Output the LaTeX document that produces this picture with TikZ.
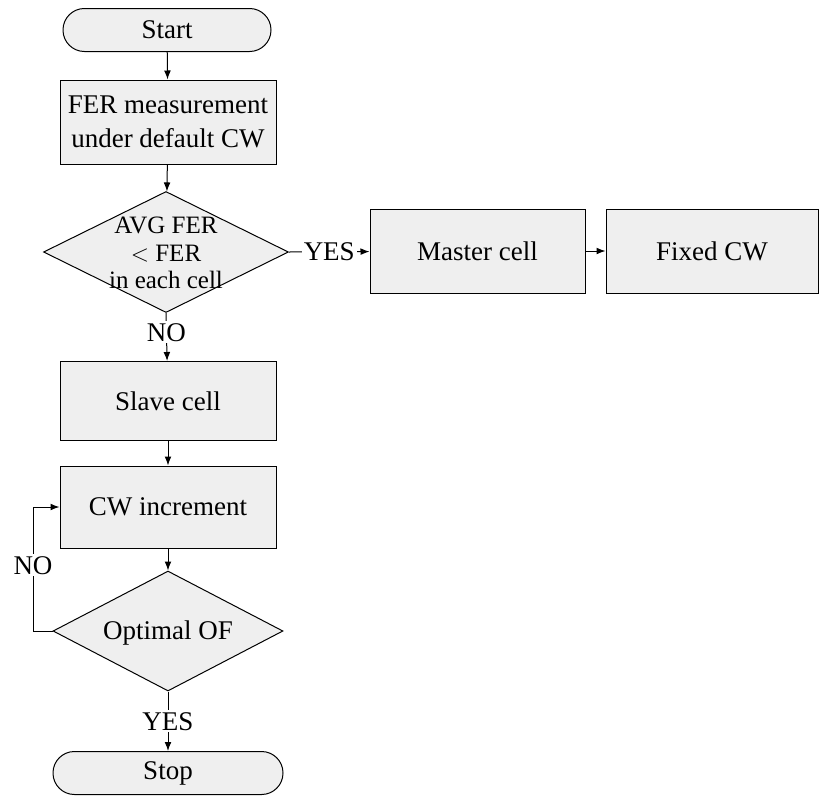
\documentclass[tikz,border=0pt]{standalone}
\usepackage{fontspec}
\setmainfont{Liberation Serif}
\usetikzlibrary{shapes.geometric,arrows.meta}
\definecolor{boxgray}{RGB}{239,239,239}
\tikzset{
  txt/.style={font=\fontsize{13.5}{17}\selectfont},
  proc/.style={txt, draw, fill=boxgray, align=center, inner sep=2pt,
    minimum width=108pt, minimum height=42pt},
  term/.style={txt, draw, fill=boxgray, rounded corners=10.7pt,
    minimum height=21.5pt},
  decision/.style={draw, fill=boxgray, diamond, inner sep=0pt},
  dtext/.style={align=center, inner sep=0pt, font=\fontsize{12.5}{13.6}\selectfont},
  lbl/.style={txt, fill=white, inner sep=1pt},
  arr/.style={-{Latex[length=4.5pt,width=3.4pt]}}
}
\begin{document}
\begin{tikzpicture}[x=0.5pt, y=-0.5pt, line width=0.5pt]
    \useasboundingbox (0,0) rectangle (819,798);
    \node[term, minimum width=104pt] (start) at (167,30) {Start};
    \node[proc] (fer) at (168,122) {FER measurement\\under default CW};
    \node[decision, minimum width=122.5pt, minimum height=60.5pt] (chk) at (166,252) {};
    \node[dtext] (chktext) at (166,253) {AVG FER\\$<$ FER\\in each cell};
    \node[proc, minimum width=107.5pt] (master) at (477.5,251) {Master cell};
    \node[proc, minimum width=106pt] (fixed) at (712,251) {Fixed CW};
    \node[proc, minimum height=39.5pt] (slave) at (168,401) {Slave cell};
    \node[proc, minimum height=41pt] (cwinc) at (168,507) {CW increment};
    \node[decision, minimum width=115pt, minimum height=60pt] (opt) at (168,631) {};
    \node[txt] (opttext) at (168,633) {Optimal OF};
    \node[term, minimum width=115pt] (stop) at (168,773) {Stop};
    \coordinate (loopa) at (33,631);
    \coordinate (loopb) at (33,507);

    \draw[arr] (start) -- (fer);
    \draw[arr] (fer) -- (chk);
    \draw[arr] (chk.east) -- node[lbl] {YES} (master);
    \draw[arr] (master) -- (fixed);
    \draw[arr] (chk.south) -- node[lbl, pos=0.4] {NO} (slave);
    \draw[arr] (slave) -- (cwinc);
    \draw[arr] (cwinc) -- (opt);
    \draw[arr] (opt.west) -- (loopa) -- node[lbl, pos=0.53] {NO} (loopb) -- (cwinc.west);
    \draw[arr] (opt.south) -- node[lbl, pos=0.5] {YES} (stop);
\end{tikzpicture}
\end{document}
